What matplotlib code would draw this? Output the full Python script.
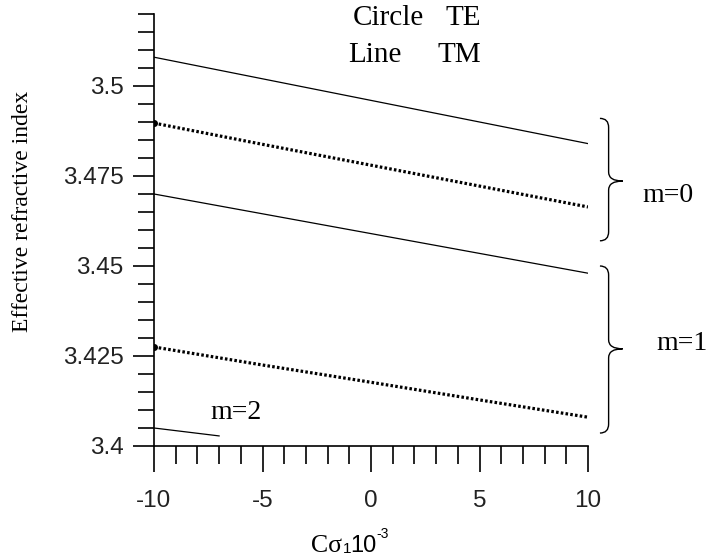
import numpy as np
import matplotlib
matplotlib.use("Agg")
import matplotlib.pyplot as plt
from matplotlib.path import Path
from matplotlib.patches import PathPatch
from matplotlib.ticker import MultipleLocator, FixedLocator

plt.rcParams['axes.unicode_minus'] = False

# data
x = [-10, -5, 0, 5, 10]
tm_m0 = [3.508, 3.502, 3.496, 3.490, 3.484]
te_m0 = [3.4897, 3.4838, 3.4780, 3.4722, 3.4664]
tm_m1 = [3.470, 3.4645, 3.459, 3.4535, 3.448]
te_m1 = [3.4275, 3.4225, 3.4177, 3.4128, 3.408]
x_m2 = [-10, -8.5, -7]
tm_m2 = [3.405, 3.4039, 3.4028]

xticks = [-10, -5, 0, 5, 10]
yticks = [3.4, 3.425, 3.45, 3.475, 3.5]
ytick_labels = ["3.4", "3.425", "3.45", "3.475", "3.5"]

serif = "Liberation Serif"
sans = "Liberation Sans"

fig = plt.figure(figsize=(7.11, 5.57), dpi=100)
ax = fig.add_axes([154/711, 1-446/557, 434/711, 432/557])

# TM = solid lines, TE = dotted (circles)
ax.plot(x, tm_m0, color='black', lw=0.9)
ax.plot(x, tm_m1, color='black', lw=0.9)
ax.plot(x_m2, tm_m2, color='black', lw=0.9)
for te in (te_m0, te_m1):
    ax.plot(x, te, color='black', lw=2.3, linestyle=(0, (0.8, 0.7)),
            marker='o', markevery=[0], markersize=4)

ax.set_xlim(-10, 10)
ax.set_ylim(3.4, 3.52)
for s in ('top', 'right'):
    ax.spines[s].set_visible(False)
for s in ('left', 'bottom'):
    ax.spines[s].set_linewidth(1.2)

ax.xaxis.set_major_locator(FixedLocator(xticks))
ax.xaxis.set_minor_locator(MultipleLocator(1))
ax.yaxis.set_major_locator(FixedLocator(yticks))
ax.set_yticklabels(ytick_labels)
ax.yaxis.set_minor_locator(MultipleLocator(0.005))

ax.tick_params(axis='x', which='major', length=18.5, width=1.2, pad=13,
               labelsize=17.5, labelcolor='#222222')
ax.tick_params(axis='x', which='minor', length=13, width=1.2)
ax.tick_params(axis='y', which='major', length=15, width=1.2, pad=7,
               labelsize=17.5, labelcolor='#222222')
ax.tick_params(axis='y', which='minor', length=11.5, width=1.2)
for lab in ax.get_xticklabels() + ax.get_yticklabels():
    lab.set_fontfamily(sans)


def brace(ax, x0, x1, x2, ybot, ymid, ytop, ry):
    verts = [(x0, ytop), (x1, ytop), (x1, ytop - ry),
             (x1, ymid + ry), (x1, ymid), (x2, ymid),
             (x1, ymid), (x1, ymid - ry),
             (x1, ybot + ry), (x1, ybot), (x0, ybot)]
    codes = [Path.MOVETO, Path.CURVE3, Path.CURVE3,
             Path.LINETO, Path.CURVE3, Path.CURVE3,
             Path.CURVE3, Path.CURVE3,
             Path.LINETO, Path.CURVE3, Path.CURVE3]
    p = PathPatch(Path(verts, codes), fill=False, lw=1.0, color='black',
                  clip_on=False)
    ax.add_patch(p)


brace(ax, 10.55, 10.95, 11.6, 3.457, 3.4736, 3.491, 0.0025)
brace(ax, 10.55, 10.95, 11.6, 3.4036, 3.427, 3.450, 0.0025)

ax.text(12.5, 3.4697, "m=0", fontsize=20, family=serif, va='center',
        ha='left', clip_on=False)
ax.text(13.15, 3.4286, "m=1", fontsize=20, family=serif, va='center',
        ha='left', clip_on=False)
ax.text(-7.4, 3.4092, "m=2", fontsize=20, family=serif, va='center',
        ha='left')

# legend text
fig.text(353/711, 1-18/557, "Circle", fontsize=21, family=serif, va='center')
fig.text(446/711, 1-18/557, "TE", fontsize=21, family=serif, va='center')
fig.text(348/711, 1-55/557, "Line", fontsize=21, family=serif, va='center')
fig.text(437/711, 1-55/557, "TM", fontsize=21, family=serif, va='center')

fig.text(23/711, 1-211/557, "Effective refractive index", fontsize=17,
         family=serif, rotation=90, va='center', ha='center')

# x label pieces: C sigma_1 10^-3
fig.text(342/711, 1-552/557, "C\u03c3", fontsize=18.5, family=serif,
         va='baseline', ha='right')
fig.text(343/711, 1-553/557, "1", fontsize=11, family=sans,
         va='baseline', ha='left')
fig.text(350/711, 1-552/557, "10", fontsize=17, family=sans,
         va='baseline', ha='left')
fig.text(376/711, 1-538/557, "-3", fontsize=10, family=sans,
         va='baseline', ha='left')

fig.savefig("out.png", dpi=100)
